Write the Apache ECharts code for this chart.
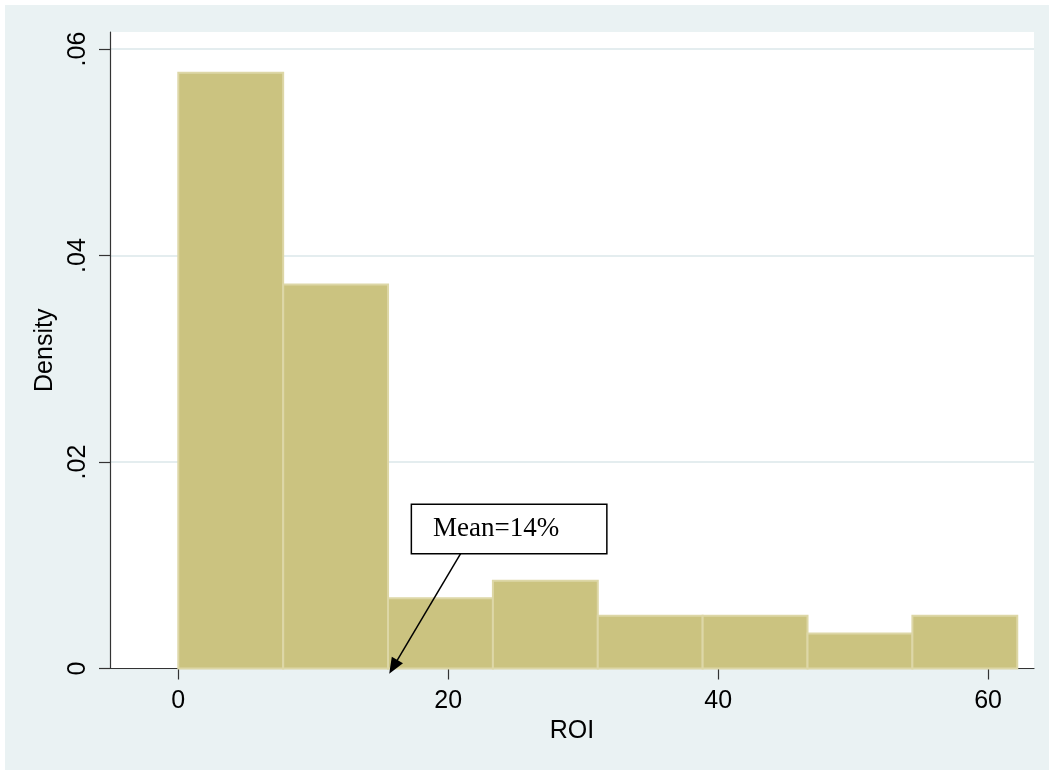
<!DOCTYPE html>
<html>
<head>
<meta charset="utf-8">
<script src="https://cdn.jsdelivr.net/npm/echarts@6/dist/echarts.min.js"></script>
<style>
html,body{margin:0;padding:0;background:#eaf2f3;overflow:hidden;}
#chart{position:absolute;left:5px;top:5px;width:1044px;height:765px;background:#eaf2f3;}
#topStrip{position:absolute;left:0;top:0;width:100%;height:5px;background:#fff;}
#leftStrip{position:absolute;left:0;top:0;width:5px;height:100%;background:#fff;}
</style>
</head>
<body>
<div id="topStrip"></div>
<div id="leftStrip"></div>
<div id="chart"></div>
<script>
// Histogram bin edges (ROI) and densities
const binEdges = [0, 7.77, 15.54, 23.31, 31.08, 38.85, 46.62, 54.39, 62.16];
const densities = [0.0577, 0.0372, 0.0068, 0.0085, 0.0051, 0.0051, 0.0034, 0.0051];
const xTicks = [0, 20, 40, 60];
const yTicks = [0, 0.02, 0.04, 0.06];
const yTickLabels = ['0', '.02', '.04', '.06'];
// Annotation (data coordinates)
const annotationText = 'Mean=14%';
const annotationBoxCenter = [24.51, 0.01351];
const arrowStart = [20.95, 0.01119];
const arrowEnd = [15.93, 0.000155];

const barData = densities.map((d, i) => [binEdges[i], binEdges[i + 1], d]);

const chart = echarts.init(document.getElementById('chart'), null, {renderer: 'canvas'});
const font = 'Liberation Sans, Arial, sans-serif';
chart.setOption({
  animation: false,
  backgroundColor: '#eaf2f3',
  grid: {
    left: 105, right: 15, top: 27, bottom: 101.5,
    show: true, backgroundColor: '#ffffff', borderWidth: 0
  },
  xAxis: {
    type: 'value', min: -5.06, max: 63.4,
    name: 'ROI', nameLocation: 'middle', nameGap: 46,
    nameTextStyle: {fontFamily: font, fontSize: 25, color: '#000'},
    axisLine: {show: true, onZero: false, lineStyle: {color: '#333', width: 1.2}},
    axisTick: {show: true, length: 11, customValues: xTicks, lineStyle: {color: '#333', width: 1.2}},
    axisLabel: {customValues: xTicks, margin: 20, fontFamily: font, fontSize: 25, color: '#000'},
    splitLine: {show: false}
  },
  yAxis: {
    type: 'value', min: 0, max: 0.06165,
    name: 'Density', nameLocation: 'middle', nameGap: 43,
    nameTextStyle: {fontFamily: font, fontSize: 25, color: '#000'},
    axisLine: {show: true, onZero: false, lineStyle: {color: '#333', width: 1.2}},
    axisTick: {show: true, length: 11, customValues: yTicks, lineStyle: {color: '#333', width: 1.2}},
    axisLabel: {
      customValues: yTicks, rotate: 90, margin: 19,
      fontFamily: font, fontSize: 25, color: '#000',
      formatter: v => {
        const i = yTicks.findIndex(t => Math.abs(t - v) < 1e-9);
        return i >= 0 ? yTickLabels[i] : '';
      }
    },
    splitLine: {show: true, lineStyle: {color: '#e4edef', width: 2}}
  },
  series: [{
    type: 'custom',
    data: barData,
    encode: {x: [0, 1], y: 2},
    renderItem: function (params, api) {
      const p0 = api.coord([api.value(0), 0]);
      const p1 = api.coord([api.value(1), api.value(2)]);
      return {
        type: 'rect',
        shape: {x: p0[0], y: p1[1], width: p1[0] - p0[0], height: p0[1] - p1[1]},
        style: {fill: '#cbc380', stroke: '#ddd7a7', lineWidth: 2}
      };
    },
    z: 2,
    markLine: {
      silent: true,
      symbol: ['none', 'triangle'],
      symbolSize: [13, 16],
      lineStyle: {color: '#000', width: 1.5, type: 'solid'},
      label: {show: false},
      data: [[{coord: arrowStart}, {coord: arrowEnd}]],
      z: 5
    },
    markPoint: {
      silent: true,
      symbol: 'rect',
      symbolSize: 0,
      label: {
        show: true, position: 'inside', formatter: annotationText,
        fontFamily: 'Liberation Serif, Times New Roman, serif', fontSize: 27, color: '#000',
        backgroundColor: '#ffffff', borderColor: '#000', borderWidth: 1.5,
        width: 163, height: 31, lineHeight: 31, align: 'left', verticalAlign: 'middle',
        padding: [9, 10, 8, 21], offset: [-97, 0]
      },
      data: [{coord: annotationBoxCenter}],
      z: 6
    }
  }]
});
</script>
</body>
</html>
